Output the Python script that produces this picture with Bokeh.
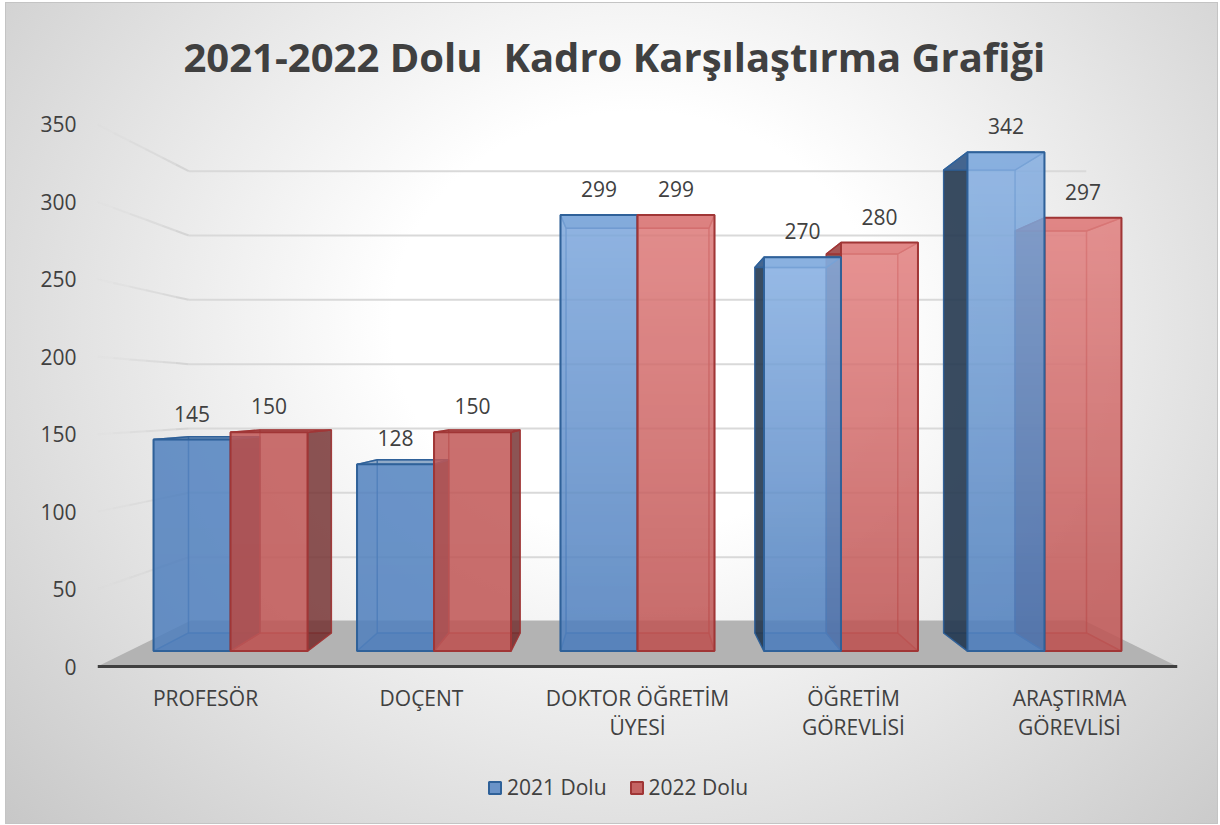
from bokeh.plotting import figure
from bokeh.embed import file_html
from bokeh.resources import INLINE
from bokeh.models import (Range1d, LinearAxis, FixedTicker, Legend, LegendItem, Title)
from bokeh.core.properties import value
import numpy as np

categories = ["PROFESÖR", "DOÇENT", "DOKTOR ÖĞRETİM", "ÖĞRETİM", "ARAŞTIRMA"]
categories_line2 = ["", "", "ÜYESİ", "GÖREVLİSİ", "GÖREVLİSİ"]
series_2021 = [145, 128, 299, 270, 342]
series_2022 = [150, 150, 299, 280, 297]
y_ticks = [0, 50, 100, 150, 200, 250, 300, 350]
title_text = "2021-2022 Dolu \u00a0Kadro Karşılaştırma Grafiği"
names = ["2021 Dolu", "2022 Dolu"]

FONT = "Open Sans"
TXT = "#404040"
# pseudo-3D camera
VX = 2.5          # vanishing x (category units)
VY = 171.8        # vanishing y (value units)
K_FRONT, K_BACK, K_FLOOR, K_WALL = 0.942, 0.874, 0.827, 0.831
W = 0.3784        # bar width in category units

def pr(x, v, k):
    return VX + k * (x - VX), VY + k * (v - VY)

def quad3d(pts):
    xs, ys = zip(*[pr(*q) for q in pts])
    return list(xs), list(ys)

PX_Y = 1.5486
frame_top_px, zero_px, frame_bottom_px = 100, 666, 815
p = figure(width=1220, height=825, output_backend="svg", toolbar_location=None,
           x_range=Range1d(0, 5),
           y_range=Range1d((zero_px - frame_bottom_px) / PX_Y, (zero_px - frame_top_px) / PX_Y),
           x_axis_type=None, y_axis_type=None,
           frame_width=1080, frame_height=frame_bottom_px - frame_top_px,
           min_border_left=97, min_border_right=43, min_border_top=frame_top_px, min_border_bottom=825 - frame_bottom_px,
           background_fill_color=None, border_fill_color=None, outline_line_color=None)
p.grid.visible = False
p.styles = {
    "background": ("radial-gradient(ellipse 72% 92% at 52% 39%, #ffffff 28%, #c6c6c6 100%) 6px 3px / 1211px 820px no-repeat, "
                   "linear-gradient(#c4c4c4, #c4c4c4) 5px 2px / 1213px 822px no-repeat, #ffffff"),
}

# title
t = Title(text=title_text, align="left", text_font=FONT, text_font_size="40px",
          text_font_style="bold", text_color=TXT, offset=86, standoff=34)
p.add_layout(t, "above")

# axes
ya = LinearAxis(ticker=FixedTicker(ticks=y_ticks), axis_line_color=None,
                major_tick_line_color=None, minor_tick_line_color=None,
                major_label_text_font=FONT, major_label_text_font_size="21px",
                major_label_text_color=TXT, major_label_standoff=15)
p.add_layout(ya, "left")
tick_x = [i + 0.5 for i in range(len(categories))]
xa = LinearAxis(ticker=FixedTicker(ticks=tick_x), fixed_location=0,
                major_label_overrides={x: c for x, c in zip(tick_x, categories)},
                axis_line_color="#404040", axis_line_width=3,
                major_tick_line_color=None, minor_tick_line_color=None,
                major_label_text_font=FONT, major_label_text_font_size="21px",
                major_label_text_color=TXT, major_label_standoff=11,
                major_label_orientation="horizontal")
p.add_layout(xa, "below")
tick_x2 = [x for x, c in zip(tick_x, categories_line2) if c]
xa2 = LinearAxis(ticker=FixedTicker(ticks=tick_x2), fixed_location=0,
                 major_label_overrides={x: c for x, c in zip(tick_x, categories_line2) if c},
                 axis_line_color=None, major_tick_line_color=None, minor_tick_line_color=None,
                 major_label_text_font=FONT, major_label_text_font_size="21px",
                 major_label_text_color=TXT, major_label_standoff=40,
                 major_label_orientation="horizontal")
p.add_layout(xa2, "below")

# floor
fx, fy = quad3d([(0, 0, 1), (5, 0, 1), (5, 0, K_FLOOR), (0, 0, K_FLOOR)])
p.patch(fx, fy, fill_color="#b3b3b3", line_color=None)

# gridlines: back wall and fading left wall
for v in y_ticks[1:]:
    a = pr(0, v, K_WALL)
    b = pr(5, v, K_WALL)
    p.line([a[0], b[0]], [a[1], b[1]], line_color="#d9d9d9", line_width=2)
    steps = [1.0, 0.97, 0.94, 0.91, 0.88, 0.855, K_WALL]
    for n in range(len(steps) - 1):
        s0 = pr(0, v, steps[n]); s1 = pr(0, v, steps[n + 1])
        p.line([s0[0], s1[0]], [s0[1], s1[1]], line_color="#d4d4d4", line_width=2,
               line_alpha=0.12 + 0.17 * n)

STY = {
    0: dict(fill="#5080be", edge="#2f6199", side="#253850", side_a=0.9, top=(178, 214, 255), floor="#2c5a96"),
    1: dict(fill="#c05655", edge="#a03636", side="#702c2c", side_a=0.8, top=(255, 165, 165), floor="#8c2f2f"),
}
FADE = [0.05, 0.05, 0.85, 1.0, 1.0]   # how much each group's top brightens

def draw_bar(i, s, val):
    st = STY[s]
    x0 = i + 0.5 - W if s == 0 else i + 0.5
    x1 = x0 + W
    kw = dict(line_color=st["edge"], line_width=1.4)
    # back and floor
    bx, by = quad3d([(x0, 0, K_BACK), (x1, 0, K_BACK), (x1, val, K_BACK), (x0, val, K_BACK)])
    p.patch(bx, by, fill_color=st["fill"], fill_alpha=0.06, line_alpha=0.55, **kw)
    fx_, fy_ = quad3d([(x0, 0, K_FRONT), (x1, 0, K_FRONT), (x1, 0, K_BACK), (x0, 0, K_BACK)])
    p.patch(fx_, fy_, fill_color=st["floor"], fill_alpha=0.32, line_alpha=0.55, **kw)
    # sides
    left_of_centre = (x0 + x1) / 2 < VX
    for xs, dark in ((x0, not left_of_centre), (x1, left_of_centre)):
        sx, sy = quad3d([(xs, 0, K_FRONT), (xs, 0, K_BACK), (xs, val, K_BACK), (xs, val, K_FRONT)])
        if i == 2:
            dark = False
        p.patch(sx, sy, fill_color=st["side"], fill_alpha=st["side_a"] if dark else 0.05,
                line_alpha=0.9 if dark else 0.55, **kw)
    # top
    tx, ty = quad3d([(x0, val, K_FRONT), (x1, val, K_FRONT), (x1, val, K_BACK), (x0, val, K_BACK)])
    p.patch(tx, ty, fill_color=st["fill"] if val > VY else st["edge"], fill_alpha=0.5, **kw)
    # front, vertical gradient
    ax, ay = pr(x0, 0, K_FRONT)
    bx2, by2 = pr(x1, val, K_FRONT)
    n = 128
    base = np.array([int(st["fill"][j:j + 2], 16) for j in (1, 3, 5)], float)
    top = np.array(st["top"], float)
    tt = np.clip((np.linspace(0, 1, n) - 0.05) / 0.95, 0, 1)[:, None] * FADE[i]
    col = base + (top - base) * 0.55 * tt
    img = np.zeros((n, 2), dtype=np.uint32)
    view = img.view(dtype=np.uint8).reshape((n, 2, 4))
    view[..., 0] = col[:, 0, None]; view[..., 1] = col[:, 1, None]; view[..., 2] = col[:, 2, None]
    view[..., 3] = 217
    p.image_rgba(image=[img], x=[ax], y=[ay], dw=[bx2 - ax], dh=[by2 - ay])
    fr, fyy = quad3d([(x0, 0, K_FRONT), (x1, 0, K_FRONT), (x1, val, K_FRONT), (x0, val, K_FRONT)])
    p.patch(fr, fyy, fill_color=None, line_color=st["edge"], line_width=2)
    return (x0 + x1) / 2

label_x, label_y, label_t = [], [], []
for i, (a, b) in enumerate(zip(series_2021, series_2022)):
    order = [(0, a), (1, b)] if i <= 2 else [(1, b), (0, a)]
    for s, val in order:
        c = draw_bar(i, s, val)
        lx, ly = pr(c, val, K_FRONT)
        label_x.append(lx); label_y.append(ly); label_t.append(str(val))

p.text(x=label_x, y=label_y, text=label_t, text_align="center", text_baseline="middle",
       y_offset=-26, text_font=value(FONT), text_font_size="21px", text_color=TXT)

# legend keys: marks that lie off the visible range, only their look is used
k0 = p.quad(left=[-9], right=[-8], top=[1], bottom=[0], fill_color="#6a93c8", line_color="#2f6199", line_width=2)
k1 = p.quad(left=[-9], right=[-8], top=[1], bottom=[0], fill_color="#c56463", line_color="#a03636", line_width=2)
leg = Legend(items=[LegendItem(label=names[0], renderers=[k0]), LegendItem(label=names[1], renderers=[k1])],
             orientation="horizontal", location=(390, 14), border_line_color=None, background_fill_alpha=0,
             glyph_width=15, glyph_height=15, label_standoff=5, spacing=22, margin=1, padding=2,
             label_text_font=FONT, label_text_font_size="21px", label_text_color=TXT)
p.add_layout(leg, "center")

open("out.html", "w").write(file_html(p, INLINE))
